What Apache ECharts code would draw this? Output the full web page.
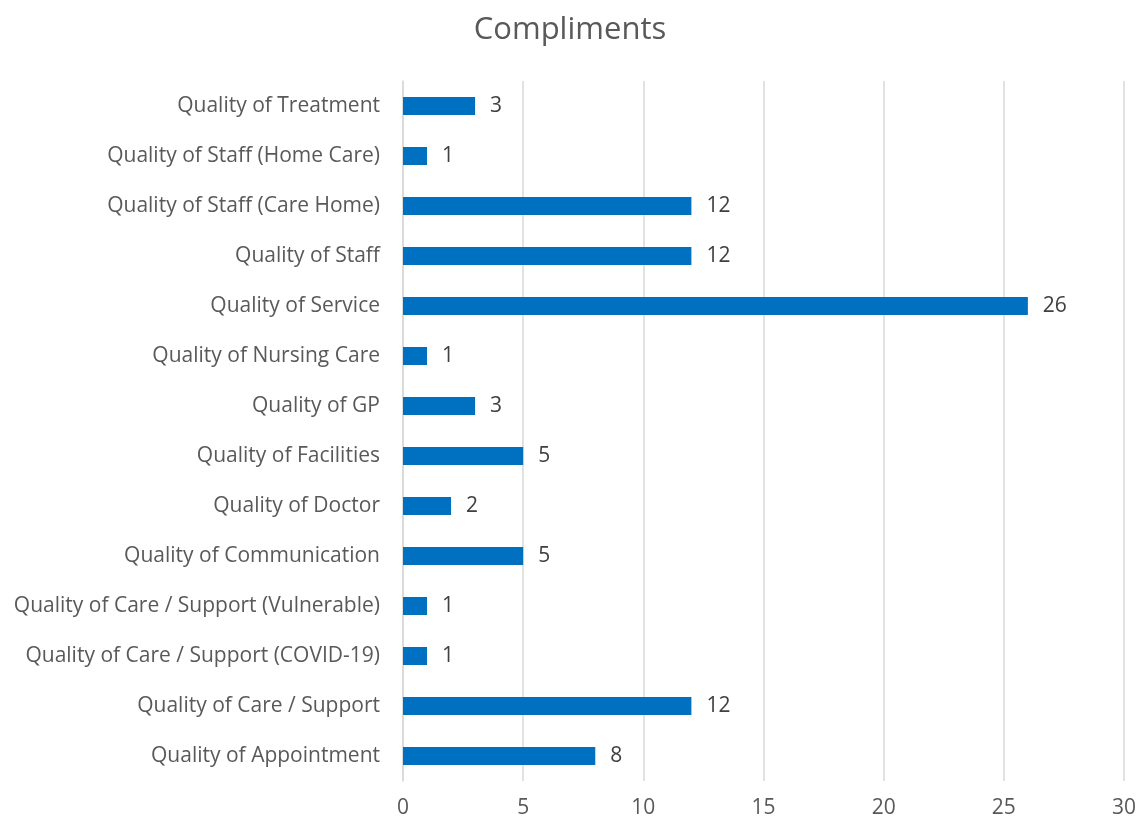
<!DOCTYPE html>
<html><head><meta charset="utf-8">
<script src="https://cdn.jsdelivr.net/npm/echarts@6/dist/echarts.min.js"></script>
<style>html,body{margin:0;padding:0;background:#fff}#c{width:1140px;height:824px}</style>
</head><body><div id="c"></div>
<script>
const categories = ["Quality of Appointment","Quality of Care / Support","Quality of Care / Support (COVID-19)","Quality of Care / Support (Vulnerable)","Quality of Communication","Quality of Doctor","Quality of Facilities","Quality of GP","Quality of Nursing Care","Quality of Service","Quality of Staff","Quality of Staff (Care Home)","Quality of Staff (Home Care)","Quality of Treatment"];
const values = [8,12,1,1,5,2,5,3,1,26,12,12,1,3];
const chart = echarts.init(document.getElementById('c'));
const font = "'Open Sans', sans-serif";
chart.setOption({
  animation:false,
  title:{text:'Compliments',left:'center',top:10,textStyle:{fontFamily:font,fontSize:31,fontWeight:'normal',color:'#595959'}},
  grid:{left:403,right:16,top:81,bottom:43,containLabel:false},
  xAxis:{type:'value',min:0,max:30,interval:5,
    axisLine:{show:false},axisTick:{show:false},
    axisLabel:{fontFamily:font,fontSize:21,color:'#595959',margin:17},
    splitLine:{lineStyle:{color:'#d9d9d9',width:1.5}}},
  yAxis:{type:'category',data:categories,
    axisLine:{show:true,lineStyle:{color:'#d9d9d9',width:1.5}},axisTick:{show:false},
    axisLabel:{fontFamily:font,fontSize:21,color:'#595959',margin:23,padding:[3,0,0,0]}},
  series:[{type:'bar',data:values,barWidth:18,itemStyle:{color:'#0070C0'},
    label:{show:true,position:'right',distance:15,fontFamily:font,fontSize:21,color:'#404040',padding:[3,0,0,0]}}]
});
</script></body></html>
